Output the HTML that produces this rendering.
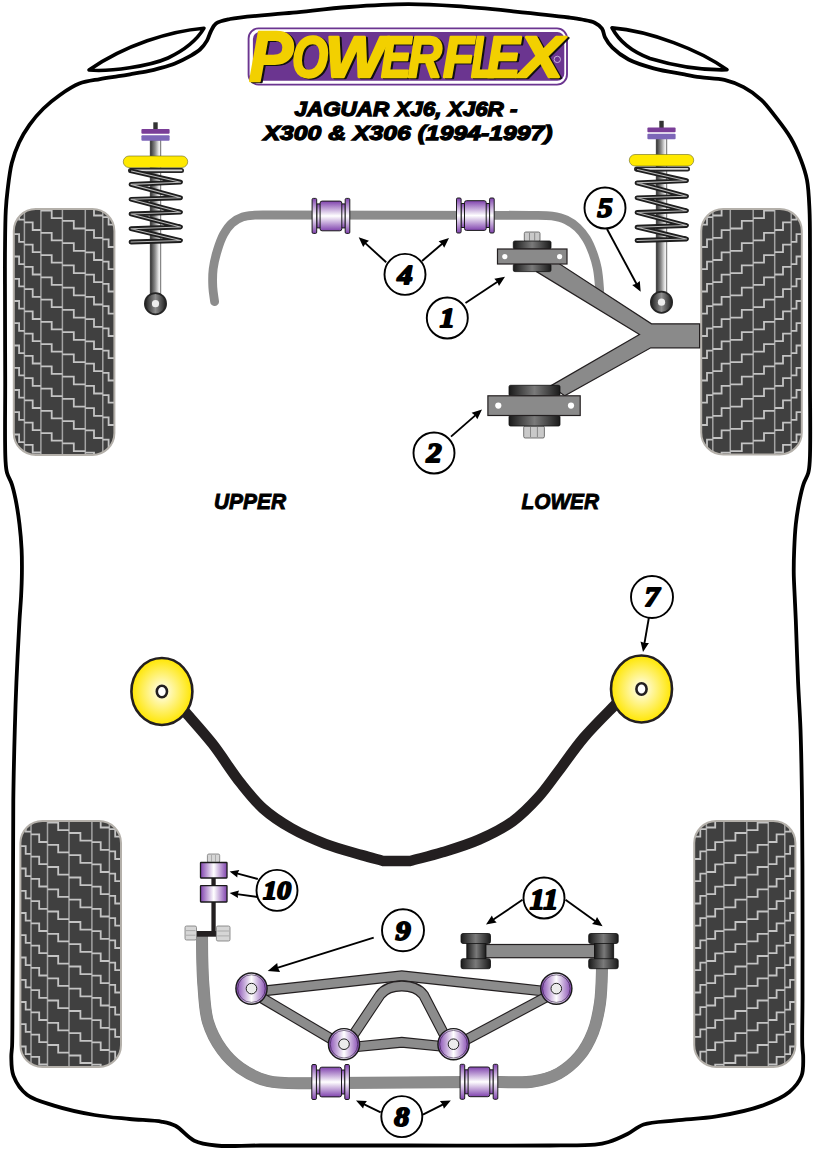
<!DOCTYPE html><html><head><meta charset="utf-8"><style>html,body{margin:0;padding:0;background:#fff;}svg{display:block;}</style></head><body><svg width="815" height="1152" viewBox="0 0 815 1152"><rect width="815" height="1152" fill="#fff"/>
<defs>
 <linearGradient id="shaft" x1="0" x2="1" y1="0" y2="0">
  <stop offset="0" stop-color="#2e2e2e"/><stop offset="0.45" stop-color="#8a8a8a"/><stop offset="0.82" stop-color="#ececec"/><stop offset="0.93" stop-color="#f2f2f2"/><stop offset="1" stop-color="#4a4a4a"/>
 </linearGradient>
 <linearGradient id="ballg" x1="0" x2="1" y1="0" y2="0">
  <stop offset="0" stop-color="#1e1e1e"/><stop offset="0.5" stop-color="#8e8e8e"/><stop offset="1" stop-color="#1e1e1e"/>
 </linearGradient>
 <linearGradient id="purp" x1="0" x2="0" y1="0" y2="1">
  <stop offset="0" stop-color="#8043ae"/><stop offset="0.5" stop-color="#ffffff"/><stop offset="1" stop-color="#8043ae"/>
 </linearGradient>
 <linearGradient id="purph" x1="0" x2="1" y1="0" y2="0">
  <stop offset="0" stop-color="#8043ae"/><stop offset="0.5" stop-color="#ffffff"/><stop offset="1" stop-color="#8043ae"/>
 </linearGradient>
 <linearGradient id="rub" x1="0" x2="1" y1="0" y2="0">
  <stop offset="0" stop-color="#1a1a1a"/><stop offset="0.5" stop-color="#7a7a7a"/><stop offset="1" stop-color="#1a1a1a"/>
 </linearGradient>
 <linearGradient id="rubv" x1="0" x2="0" y1="0" y2="1">
  <stop offset="0" stop-color="#1e1e1e"/><stop offset="0.5" stop-color="#8a8a8a"/><stop offset="1" stop-color="#1e1e1e"/>
 </linearGradient>
 <radialGradient id="yel" cx="0.5" cy="0.5" r="0.5">
  <stop offset="0" stop-color="#ffffff"/><stop offset="0.35" stop-color="#fff6a0"/><stop offset="1" stop-color="#ffe600"/>
 </radialGradient>
 <radialGradient id="ring" cx="0.5" cy="0.5" r="0.5">
  <stop offset="0" stop-color="#ffffff"/><stop offset="0.55" stop-color="#e8dcf2"/><stop offset="1" stop-color="#6f3d99"/>
 </radialGradient>
 <radialGradient id="ball" cx="0.5" cy="0.5" r="0.5">
  <stop offset="0" stop-color="#9a9a9a"/><stop offset="0.7" stop-color="#3a3a3a"/><stop offset="1" stop-color="#1a1a1a"/>
 </radialGradient>
</defs>

<path d="M408.00,4.20 C424.96,4.15 439.73,5.10 456.50,6.20 C474.63,7.39 494.22,9.41 513.00,11.30 C531.72,13.18 556.87,15.90 569.00,17.50 C574.86,18.27 577.71,18.63 582.00,19.50 C586.28,20.37 591.20,20.95 594.70,22.70 C597.66,24.18 600.28,26.14 602.00,28.60 C603.71,31.05 603.49,34.46 605.00,37.40 C606.77,40.83 609.12,44.40 612.40,47.70 C616.52,51.85 622.34,56.21 628.60,59.50 C635.80,63.28 644.84,65.89 653.60,68.30 C662.92,70.86 674.53,72.60 683.00,74.20 C689.43,75.41 693.80,76.31 700.00,77.20 C707.41,78.26 716.95,78.07 724.50,79.90 C731.38,81.56 737.55,83.96 743.60,87.20 C749.84,90.54 755.96,94.85 761.30,99.80 C766.79,104.88 771.21,111.21 776.00,117.40 C781.03,123.91 786.51,130.81 790.70,138.00 C794.82,145.06 798.23,152.83 801.00,160.10 C803.56,166.81 805.59,172.61 807.00,180.00 C808.69,188.90 808.99,199.27 809.50,210.00 C810.09,222.37 809.91,235.92 810.00,250.00 C810.10,265.74 810.00,281.38 810.00,300.00 C810.00,323.55 810.03,353.31 810.00,380.00 C809.97,406.74 810.72,445.17 809.80,460.30 C809.43,466.29 809.36,468.84 808.30,472.80 C807.27,476.66 804.96,479.75 803.60,483.80 C802.02,488.49 800.88,493.56 799.70,499.40 C798.22,506.73 796.72,516.05 795.80,524.40 C794.89,532.71 794.54,541.20 794.20,549.40 C793.87,557.33 793.67,565.00 793.75,572.80 C793.83,580.61 794.36,588.41 794.70,596.25 C795.04,604.14 795.39,610.20 795.80,620.00 C796.46,635.89 797.25,663.16 798.10,682.50 C798.84,699.26 799.88,712.17 800.50,729.40 C801.26,750.53 801.66,774.42 802.00,800.00 C802.40,830.44 802.42,866.67 802.50,900.00 C802.58,933.33 802.56,973.02 802.50,1000.00 C802.46,1018.34 801.90,1036.17 802.30,1046.20 C802.49,1051.06 803.21,1052.90 803.20,1057.00 C803.18,1062.42 803.73,1070.14 801.50,1075.90 C799.20,1081.84 794.85,1087.38 789.30,1092.00 C782.51,1097.65 772.74,1101.80 762.30,1105.60 C749.27,1110.34 731.38,1113.92 716.50,1116.40 C702.66,1118.70 688.74,1118.97 676.00,1120.40 C664.59,1121.69 652.31,1121.54 643.60,1124.50 C637.00,1126.75 633.11,1131.13 627.40,1134.00 C621.43,1137.00 614.36,1140.20 608.50,1142.00 C603.70,1143.48 600.85,1144.07 595.00,1144.70 C584.42,1145.84 569.20,1145.33 550.00,1145.50 C515.90,1145.80 455.82,1145.50 408.00,1145.50 C359.18,1145.50 294.82,1145.50 260.00,1145.50 C241.02,1145.50 228.04,1146.82 216.00,1145.50 C207.44,1144.56 200.96,1143.85 194.30,1140.70 C187.37,1137.42 181.45,1128.94 175.40,1125.80 C170.79,1123.41 167.50,1122.85 162.00,1121.80 C153.61,1120.20 140.61,1120.10 129.60,1119.00 C118.13,1117.85 106.56,1117.08 94.50,1115.00 C81.42,1112.74 66.01,1109.37 54.00,1105.60 C43.96,1102.45 33.91,1100.22 27.00,1094.80 C20.83,1089.95 16.06,1082.55 13.50,1075.90 C11.18,1069.88 11.42,1062.46 11.30,1057.00 C11.21,1052.84 11.90,1050.93 12.10,1046.00 C12.51,1035.93 12.37,1018.27 12.50,1000.00 C12.68,973.06 12.87,933.33 13.00,900.00 C13.13,866.67 12.93,830.44 13.30,800.00 C13.61,774.42 14.22,750.53 14.80,729.40 C15.28,712.17 15.70,699.25 16.40,682.50 C17.21,663.16 18.57,635.89 19.50,620.00 C20.07,610.20 20.70,604.14 21.10,596.25 C21.50,588.41 21.82,580.61 21.90,572.80 C21.98,565.00 21.98,557.32 21.60,549.40 C21.20,541.20 20.50,532.72 19.50,524.40 C18.50,516.05 17.08,506.73 15.60,499.40 C14.42,493.56 13.28,488.49 11.70,483.80 C10.34,479.75 8.03,476.66 7.00,472.80 C5.94,468.84 5.87,466.29 5.50,460.30 C4.57,445.17 5.28,406.74 5.20,380.00 C5.12,353.31 5.03,323.55 5.00,300.00 C4.98,281.38 4.84,265.74 5.00,250.00 C5.14,235.92 5.19,221.04 5.80,210.00 C6.23,202.18 6.72,197.15 7.60,190.00 C8.62,181.66 9.70,171.29 11.80,163.00 C13.68,155.60 16.09,148.95 19.10,142.50 C22.02,136.24 25.49,130.41 29.50,124.80 C33.60,119.06 38.44,113.46 43.50,108.50 C48.49,103.61 53.79,99.27 59.60,95.20 C65.68,90.94 72.43,86.29 79.30,83.60 C85.92,81.01 93.28,80.36 100.00,79.10 C106.32,77.92 113.06,77.08 118.50,76.20 C122.79,75.51 125.74,75.02 130.00,74.30 C135.33,73.40 142.62,72.33 148.00,71.20 C152.42,70.27 155.80,69.40 160.00,68.20 C164.74,66.85 170.07,65.38 175.00,63.40 C180.07,61.37 185.58,58.62 190.00,56.10 C193.75,53.96 197.14,52.13 200.00,49.50 C202.78,46.94 205.15,43.76 207.00,40.60 C208.78,37.57 209.43,33.93 211.00,31.00 C212.46,28.27 213.46,25.42 216.00,23.50 C219.24,21.05 223.56,20.34 230.00,19.00 C243.35,16.22 272.53,14.75 292.90,12.70 C312.14,10.76 330.05,8.41 349.00,7.00 C368.40,5.56 389.29,4.26 408.00,4.20 Z" fill="none" stroke="#000" stroke-width="3.8" stroke-linejoin="round"/>
<path d="M204,28.2 C170,31 125,45 89,70 C110,72 150,66 168,58 C185,50 197,40 204,28.2 Z" fill="#fff" stroke="#000" stroke-width="3.6" stroke-linejoin="round"/>
<path d="M612,27.9 C650,31 700,50 727,69.8 C700,70.5 670,64.5 650,58.5 C630,51 619,41 612,27.9 Z" fill="#fff" stroke="#000" stroke-width="3.6" stroke-linejoin="round"/>
<clipPath id="tc13_209"><rect x="13.8" y="209" width="100.6" height="246" rx="22" ry="22"/></clipPath>
<rect x="13.8" y="209" width="100.6" height="246" rx="22" ry="22" fill="#404040"/>
<g clip-path="url(#tc13_209)">
<path d="M24.4,207V457M40.9,207V457M62.4,207V457M85.3,207V457M102.8,207V457" stroke="#a4a4a4" stroke-width="1.5" fill="none"/>
<path d="M13.8,189.8H19.1V197.3H24.4M13.8,212.0H19.1V219.6H24.4M13.8,234.2H19.1V241.8H24.4M13.8,256.5H19.1V264.1H24.4M13.8,278.8H19.1V286.4H24.4M13.8,301.0H19.1V308.6H24.4M13.8,323.2H19.1V330.9H24.4M13.8,345.5H19.1V353.1H24.4M13.8,367.8H19.1V375.4H24.4M13.8,390.0H19.1V397.6H24.4M13.8,412.2H19.1V419.9H24.4M13.8,434.5H19.1V442.1H24.4M13.8,456.8H19.1V464.4H24.4M24.4,200.2H32.7V207.8H40.9M24.4,222.4H32.7V230.0H40.9M24.4,244.7H32.7V252.2H40.9M24.4,266.9H32.7V274.5H40.9M24.4,289.1H32.7V296.8H40.9M24.4,311.4H32.7V319.0H40.9M24.4,333.6H32.7V341.2H40.9M24.4,355.9H32.7V363.5H40.9M24.4,378.1H32.7V385.8H40.9M24.4,400.4H32.7V408.0H40.9M24.4,422.6H32.7V430.2H40.9M24.4,444.9H32.7V452.5H40.9M40.9,188.3H51.7V195.9H62.4M40.9,210.6H51.7V218.2H62.4M40.9,232.8H51.7V240.4H62.4M40.9,255.1H51.7V262.7H62.4M40.9,277.3H51.7V284.9H62.4M40.9,299.6H51.7V307.2H62.4M40.9,321.8H51.7V329.4H62.4M40.9,344.1H51.7V351.7H62.4M40.9,366.3H51.7V373.9H62.4M40.9,388.6H51.7V396.2H62.4M40.9,410.8H51.7V418.4H62.4M40.9,433.1H51.7V440.7H62.4M40.9,455.3H51.7V462.9H62.4M62.4,198.7H73.8V206.3H85.3M62.4,220.9H73.8V228.5H85.3M62.4,243.2H73.8V250.8H85.3M62.4,265.4H73.8V273.1H85.3M62.4,287.7H73.8V295.3H85.3M62.4,309.9H73.8V317.6H85.3M62.4,332.2H73.8V339.8H85.3M62.4,354.4H73.8V362.1H85.3M62.4,376.7H73.8V384.3H85.3M62.4,398.9H73.8V406.6H85.3M62.4,421.2H73.8V428.8H85.3M62.4,443.4H73.8V451.1H85.3M85.3,185.7H94.0V193.2H102.8M85.3,207.9H94.0V215.5H102.8M85.3,230.2H94.0V237.8H102.8M85.3,252.4H94.0V260.0H102.8M85.3,274.6H94.0V282.2H102.8M85.3,296.9H94.0V304.5H102.8M85.3,319.1H94.0V326.8H102.8M85.3,341.4H94.0V349.0H102.8M85.3,363.6H94.0V371.2H102.8M85.3,385.9H94.0V393.5H102.8M85.3,408.1H94.0V415.8H102.8M85.3,430.4H94.0V438.0H102.8M85.3,452.6H94.0V460.2H102.8M102.8,194.9H108.6V202.5H114.4M102.8,217.1H108.6V224.7H114.4M102.8,239.4H108.6V247.0H114.4M102.8,261.6H108.6V269.2H114.4M102.8,283.9H108.6V291.5H114.4M102.8,306.1H108.6V313.7H114.4M102.8,328.4H108.6V336.0H114.4M102.8,350.6H108.6V358.2H114.4M102.8,372.9H108.6V380.5H114.4M102.8,395.1H108.6V402.7H114.4M102.8,417.4H108.6V425.0H114.4M102.8,439.6H108.6V447.2H114.4M102.8,461.9H108.6V469.5H114.4" stroke="#c4c4c4" stroke-width="1.8" fill="none"/>
</g>
<rect x="13.8" y="209" width="100.6" height="246" rx="22" ry="22" fill="none" stroke="#b4b0aa" stroke-width="2"/>
<clipPath id="tc701_209"><rect x="701.2" y="209" width="100.6" height="245.5" rx="22" ry="22"/></clipPath>
<rect x="701.2" y="209" width="100.6" height="245.5" rx="22" ry="22" fill="#404040"/>
<g clip-path="url(#tc701_209)">
<path d="M791.2,207V456.5M774.7,207V456.5M753.2,207V456.5M730.3,207V456.5M712.8,207V456.5" stroke="#a4a4a4" stroke-width="1.5" fill="none"/>
<path d="M801.8,189.8H796.5V197.3H791.2M801.8,212.0H796.5V219.6H791.2M801.8,234.2H796.5V241.8H791.2M801.8,256.5H796.5V264.1H791.2M801.8,278.8H796.5V286.4H791.2M801.8,301.0H796.5V308.6H791.2M801.8,323.2H796.5V330.9H791.2M801.8,345.5H796.5V353.1H791.2M801.8,367.8H796.5V375.4H791.2M801.8,390.0H796.5V397.6H791.2M801.8,412.2H796.5V419.9H791.2M801.8,434.5H796.5V442.1H791.2M801.8,456.8H796.5V464.4H791.2M791.2,200.2H783.0V207.8H774.7M791.2,222.4H783.0V230.0H774.7M791.2,244.7H783.0V252.2H774.7M791.2,266.9H783.0V274.5H774.7M791.2,289.1H783.0V296.8H774.7M791.2,311.4H783.0V319.0H774.7M791.2,333.6H783.0V341.2H774.7M791.2,355.9H783.0V363.5H774.7M791.2,378.1H783.0V385.8H774.7M791.2,400.4H783.0V408.0H774.7M791.2,422.6H783.0V430.2H774.7M791.2,444.9H783.0V452.5H774.7M774.7,188.3H764.0V195.9H753.2M774.7,210.6H764.0V218.2H753.2M774.7,232.8H764.0V240.4H753.2M774.7,255.1H764.0V262.7H753.2M774.7,277.3H764.0V284.9H753.2M774.7,299.6H764.0V307.2H753.2M774.7,321.8H764.0V329.4H753.2M774.7,344.1H764.0V351.7H753.2M774.7,366.3H764.0V373.9H753.2M774.7,388.6H764.0V396.2H753.2M774.7,410.8H764.0V418.4H753.2M774.7,433.1H764.0V440.7H753.2M774.7,455.3H764.0V462.9H753.2M753.2,198.7H741.8V206.3H730.3M753.2,220.9H741.8V228.5H730.3M753.2,243.2H741.8V250.8H730.3M753.2,265.4H741.8V273.1H730.3M753.2,287.7H741.8V295.3H730.3M753.2,309.9H741.8V317.6H730.3M753.2,332.2H741.8V339.8H730.3M753.2,354.4H741.8V362.1H730.3M753.2,376.7H741.8V384.3H730.3M753.2,398.9H741.8V406.6H730.3M753.2,421.2H741.8V428.8H730.3M753.2,443.4H741.8V451.1H730.3M730.3,185.7H721.6V193.2H712.8M730.3,207.9H721.6V215.5H712.8M730.3,230.2H721.6V237.8H712.8M730.3,252.4H721.6V260.0H712.8M730.3,274.6H721.6V282.2H712.8M730.3,296.9H721.6V304.5H712.8M730.3,319.1H721.6V326.8H712.8M730.3,341.4H721.6V349.0H712.8M730.3,363.6H721.6V371.2H712.8M730.3,385.9H721.6V393.5H712.8M730.3,408.1H721.6V415.8H712.8M730.3,430.4H721.6V438.0H712.8M730.3,452.6H721.6V460.2H712.8M712.8,194.9H707.0V202.5H701.2M712.8,217.1H707.0V224.7H701.2M712.8,239.4H707.0V247.0H701.2M712.8,261.6H707.0V269.2H701.2M712.8,283.9H707.0V291.5H701.2M712.8,306.1H707.0V313.7H701.2M712.8,328.4H707.0V336.0H701.2M712.8,350.6H707.0V358.2H701.2M712.8,372.9H707.0V380.5H701.2M712.8,395.1H707.0V402.7H701.2M712.8,417.4H707.0V425.0H701.2M712.8,439.6H707.0V447.2H701.2M712.8,461.9H707.0V469.5H701.2" stroke="#c4c4c4" stroke-width="1.8" fill="none"/>
</g>
<rect x="701.2" y="209" width="100.6" height="245.5" rx="22" ry="22" fill="none" stroke="#b4b0aa" stroke-width="2"/>
<clipPath id="tc20_821"><rect x="20.4" y="821" width="100.6" height="246" rx="22" ry="22"/></clipPath>
<rect x="20.4" y="821" width="100.6" height="246" rx="22" ry="22" fill="#404040"/>
<g clip-path="url(#tc20_821)">
<path d="M31.0,819V1069M47.5,819V1069M69.0,819V1069M91.9,819V1069M109.4,819V1069" stroke="#a4a4a4" stroke-width="1.5" fill="none"/>
<path d="M20.4,801.8H25.7V809.4H31.0M20.4,824.0H25.7V831.6H31.0M20.4,846.2H25.7V853.9H31.0M20.4,868.5H25.7V876.1H31.0M20.4,890.8H25.7V898.4H31.0M20.4,913.0H25.7V920.6H31.0M20.4,935.2H25.7V942.9H31.0M20.4,957.5H25.7V965.1H31.0M20.4,979.8H25.7V987.4H31.0M20.4,1002.0H25.7V1009.6H31.0M20.4,1024.2H25.7V1031.8H31.0M20.4,1046.5H25.7V1054.1H31.0M20.4,1068.8H25.7V1076.3H31.0M31.0,812.1H39.2V819.8H47.5M31.0,834.4H39.2V842.0H47.5M31.0,856.6H39.2V864.2H47.5M31.0,878.9H39.2V886.5H47.5M31.0,901.1H39.2V908.8H47.5M31.0,923.4H39.2V931.0H47.5M31.0,945.6H39.2V953.2H47.5M31.0,967.9H39.2V975.5H47.5M31.0,990.1H39.2V997.8H47.5M31.0,1012.4H39.2V1020.0H47.5M31.0,1034.7H39.2V1042.2H47.5M31.0,1056.9H39.2V1064.5H47.5M47.5,800.3H58.2V807.9H69.0M47.5,822.5H58.2V830.1H69.0M47.5,844.8H58.2V852.4H69.0M47.5,867.0H58.2V874.6H69.0M47.5,889.3H58.2V896.9H69.0M47.5,911.5H58.2V919.1H69.0M47.5,933.8H58.2V941.4H69.0M47.5,956.0H58.2V963.6H69.0M47.5,978.3H58.2V985.9H69.0M47.5,1000.5H58.2V1008.1H69.0M47.5,1022.8H58.2V1030.4H69.0M47.5,1045.0H58.2V1052.6H69.0M47.5,1067.3H58.2V1074.9H69.0M69.0,810.7H80.4V818.3H91.9M69.0,833.0H80.4V840.6H91.9M69.0,855.2H80.4V862.8H91.9M69.0,877.5H80.4V885.1H91.9M69.0,899.7H80.4V907.3H91.9M69.0,922.0H80.4V929.6H91.9M69.0,944.2H80.4V951.8H91.9M69.0,966.5H80.4V974.1H91.9M69.0,988.7H80.4V996.3H91.9M69.0,1011.0H80.4V1018.6H91.9M69.0,1033.2H80.4V1040.8H91.9M69.0,1055.5H80.4V1063.0H91.9M91.9,797.6H100.7V805.2H109.4M91.9,819.9H100.7V827.5H109.4M91.9,842.1H100.7V849.8H109.4M91.9,864.4H100.7V872.0H109.4M91.9,886.6H100.7V894.2H109.4M91.9,908.9H100.7V916.5H109.4M91.9,931.1H100.7V938.8H109.4M91.9,953.4H100.7V961.0H109.4M91.9,975.6H100.7V983.2H109.4M91.9,997.9H100.7V1005.5H109.4M91.9,1020.1H100.7V1027.8H109.4M91.9,1042.4H100.7V1050.0H109.4M91.9,1064.7H100.7V1072.2H109.4M109.4,806.9H115.2V814.5H121.0M109.4,829.1H115.2V836.7H121.0M109.4,851.4H115.2V859.0H121.0M109.4,873.6H115.2V881.2H121.0M109.4,895.9H115.2V903.5H121.0M109.4,918.1H115.2V925.7H121.0M109.4,940.4H115.2V948.0H121.0M109.4,962.6H115.2V970.2H121.0M109.4,984.9H115.2V992.5H121.0M109.4,1007.1H115.2V1014.7H121.0M109.4,1029.3H115.2V1036.9H121.0M109.4,1051.6H115.2V1059.2H121.0M109.4,1073.8H115.2V1081.4H121.0" stroke="#c4c4c4" stroke-width="1.8" fill="none"/>
</g>
<rect x="20.4" y="821" width="100.6" height="246" rx="22" ry="22" fill="none" stroke="#b4b0aa" stroke-width="2"/>
<clipPath id="tc694_821"><rect x="694.2" y="821" width="101.2" height="246" rx="22" ry="22"/></clipPath>
<rect x="694.2" y="821" width="101.2" height="246" rx="22" ry="22" fill="#404040"/>
<g clip-path="url(#tc694_821)">
<path d="M784.8,819V1069M768.3,819V1069M746.8,819V1069M723.9,819V1069M706.4,819V1069" stroke="#a4a4a4" stroke-width="1.5" fill="none"/>
<path d="M795.4,801.8H790.1V809.4H784.8M795.4,824.0H790.1V831.6H784.8M795.4,846.2H790.1V853.9H784.8M795.4,868.5H790.1V876.1H784.8M795.4,890.8H790.1V898.4H784.8M795.4,913.0H790.1V920.6H784.8M795.4,935.2H790.1V942.9H784.8M795.4,957.5H790.1V965.1H784.8M795.4,979.8H790.1V987.4H784.8M795.4,1002.0H790.1V1009.6H784.8M795.4,1024.2H790.1V1031.8H784.8M795.4,1046.5H790.1V1054.1H784.8M795.4,1068.8H790.1V1076.3H784.8M784.8,812.1H776.6V819.8H768.3M784.8,834.4H776.6V842.0H768.3M784.8,856.6H776.6V864.2H768.3M784.8,878.9H776.6V886.5H768.3M784.8,901.1H776.6V908.8H768.3M784.8,923.4H776.6V931.0H768.3M784.8,945.6H776.6V953.2H768.3M784.8,967.9H776.6V975.5H768.3M784.8,990.1H776.6V997.8H768.3M784.8,1012.4H776.6V1020.0H768.3M784.8,1034.7H776.6V1042.2H768.3M784.8,1056.9H776.6V1064.5H768.3M768.3,800.3H757.6V807.9H746.8M768.3,822.5H757.6V830.1H746.8M768.3,844.8H757.6V852.4H746.8M768.3,867.0H757.6V874.6H746.8M768.3,889.3H757.6V896.9H746.8M768.3,911.5H757.6V919.1H746.8M768.3,933.8H757.6V941.4H746.8M768.3,956.0H757.6V963.6H746.8M768.3,978.3H757.6V985.9H746.8M768.3,1000.5H757.6V1008.1H746.8M768.3,1022.8H757.6V1030.4H746.8M768.3,1045.0H757.6V1052.6H746.8M768.3,1067.3H757.6V1074.9H746.8M746.8,810.7H735.4V818.3H723.9M746.8,833.0H735.4V840.6H723.9M746.8,855.2H735.4V862.8H723.9M746.8,877.5H735.4V885.1H723.9M746.8,899.7H735.4V907.3H723.9M746.8,922.0H735.4V929.6H723.9M746.8,944.2H735.4V951.8H723.9M746.8,966.5H735.4V974.1H723.9M746.8,988.7H735.4V996.3H723.9M746.8,1011.0H735.4V1018.6H723.9M746.8,1033.2H735.4V1040.8H723.9M746.8,1055.5H735.4V1063.0H723.9M723.9,797.6H715.2V805.2H706.4M723.9,819.9H715.2V827.5H706.4M723.9,842.1H715.2V849.8H706.4M723.9,864.4H715.2V872.0H706.4M723.9,886.6H715.2V894.2H706.4M723.9,908.9H715.2V916.5H706.4M723.9,931.1H715.2V938.8H706.4M723.9,953.4H715.2V961.0H706.4M723.9,975.6H715.2V983.2H706.4M723.9,997.9H715.2V1005.5H706.4M723.9,1020.1H715.2V1027.8H706.4M723.9,1042.4H715.2V1050.0H706.4M723.9,1064.7H715.2V1072.2H706.4M706.4,806.9H700.3V814.5H694.2M706.4,829.1H700.3V836.7H694.2M706.4,851.4H700.3V859.0H694.2M706.4,873.6H700.3V881.2H694.2M706.4,895.9H700.3V903.5H694.2M706.4,918.1H700.3V925.7H694.2M706.4,940.4H700.3V948.0H694.2M706.4,962.6H700.3V970.2H694.2M706.4,984.9H700.3V992.5H694.2M706.4,1007.1H700.3V1014.7H694.2M706.4,1029.3H700.3V1036.9H694.2M706.4,1051.6H700.3V1059.2H694.2M706.4,1073.8H700.3V1081.4H694.2" stroke="#c4c4c4" stroke-width="1.8" fill="none"/>
</g>
<rect x="694.2" y="821" width="101.2" height="246" rx="22" ry="22" fill="none" stroke="#b4b0aa" stroke-width="2"/>
<rect x="153.3" y="122.3" width="4.4" height="8" fill="#333"/>
<rect x="150.1" y="140.0" width="10.8" height="155" fill="url(#shaft)" stroke="#444" stroke-width="0.5"/>
<rect x="141.4" y="129.0" width="28.2" height="4.8" rx="1" fill="#7a3e98"/>
<rect x="141.4" y="135.2" width="28.2" height="5.6" rx="1" fill="#7d66b8"/>
<path d="M130.5,170.4H181.5" stroke="#262626" stroke-width="5" stroke-linecap="round" fill="none"/>
<path d="M130.5,170.4H181.5" stroke="#d8d8d8" stroke-width="1.6" stroke-linecap="round" fill="none"/>
<path d="M131.5,171.0 L180.5,182.2 L131.0,184.4 L180.5,197.8 L131.0,199.3 L180.5,212.2 L131.0,214.0 L180.5,227.0 L131.0,228.7 L180.5,240.5 L131.0,242.0" stroke="#1e1e1e" stroke-width="4.8" stroke-linecap="round" stroke-linejoin="round" fill="none"/>
<path d="M131.5,171.0 L180.5,182.2 L131.0,184.4 L180.5,197.8 L131.0,199.3 L180.5,212.2 L131.0,214.0 L180.5,227.0 L131.0,228.7 L180.5,240.5 L131.0,242.0" stroke="#b8b8b8" stroke-width="1.1" stroke-linecap="round" stroke-linejoin="round" fill="none"/>
<rect x="123.3" y="156.0" width="64.4" height="11.5" rx="5.7" fill="#ffe900" stroke="#6a6a20" stroke-width="0.6"/>
<circle cx="155.5" cy="303.7" r="10.6" fill="url(#ballg)" stroke="#252525" stroke-width="1.8"/>
<circle cx="155.5" cy="303.7" r="3.6" fill="#eee"/>
<rect x="659.3" y="120.8" width="4.4" height="8" fill="#333"/>
<rect x="656.1" y="138.5" width="10.8" height="155" fill="url(#shaft)" stroke="#444" stroke-width="0.5"/>
<rect x="647.4" y="127.5" width="28.2" height="4.8" rx="1" fill="#7a3e98"/>
<rect x="647.4" y="133.7" width="28.2" height="5.6" rx="1" fill="#7d66b8"/>
<path d="M636.5,168.9H687.5" stroke="#262626" stroke-width="5" stroke-linecap="round" fill="none"/>
<path d="M636.5,168.9H687.5" stroke="#d8d8d8" stroke-width="1.6" stroke-linecap="round" fill="none"/>
<path d="M637.5,169.5 L686.5,180.7 L637.0,182.9 L686.5,196.3 L637.0,197.8 L686.5,210.7 L637.0,212.5 L686.5,225.5 L637.0,227.2 L686.5,239.0 L637.0,240.5" stroke="#1e1e1e" stroke-width="4.8" stroke-linecap="round" stroke-linejoin="round" fill="none"/>
<path d="M637.5,169.5 L686.5,180.7 L637.0,182.9 L686.5,196.3 L637.0,197.8 L686.5,210.7 L637.0,212.5 L686.5,225.5 L637.0,227.2 L686.5,239.0 L637.0,240.5" stroke="#b8b8b8" stroke-width="1.1" stroke-linecap="round" stroke-linejoin="round" fill="none"/>
<rect x="629.3" y="154.5" width="64.4" height="11.5" rx="5.7" fill="#ffe900" stroke="#6a6a20" stroke-width="0.6"/>
<circle cx="661.5" cy="302.2" r="10.6" fill="url(#ballg)" stroke="#252525" stroke-width="1.8"/>
<circle cx="661.5" cy="302.2" r="3.6" fill="#eee"/>
<path d="M214.60,301.60 C214.00,296.73 213.06,292.14 212.80,287.00 C212.51,281.28 212.46,274.83 213.20,268.80 C213.95,262.70 215.51,256.44 217.30,250.60 C219.04,244.92 221.06,238.97 223.70,234.20 C226.03,229.99 228.63,226.11 231.90,223.20 C235.04,220.41 238.95,218.23 242.80,216.90 C246.56,215.60 250.47,215.53 254.70,215.20 C259.47,214.83 264.90,215.07 270.00,215.00 L530,215.3 L530.00,215.30 C537.33,215.53 545.49,215.03 552.00,216.00 C557.36,216.80 562.07,217.88 566.40,219.90 C570.52,221.82 574.21,224.53 577.50,227.60 C580.86,230.74 583.78,234.52 586.30,238.60 C588.97,242.93 591.07,248.05 592.90,253.00 C594.74,257.98 596.22,262.89 597.30,268.40 C598.51,274.56 599.12,283.21 599.50,288.30 C599.74,291.46 599.70,293.43 599.80,296.00" fill="none" stroke="#8c8c8c" stroke-width="8.8" stroke-linecap="round"/>
<rect x="316.8" y="203.9" width="28.5" height="24.0" fill="url(#purp)" stroke="#1a1a1a" stroke-width="1"/>
<rect x="312.1" y="198.4" width="4.6" height="35.0" rx="1.2" fill="url(#purp)" stroke="#1a1a1a" stroke-width="1"/>
<rect x="345.2" y="198.4" width="4.6" height="35.0" rx="1.2" fill="url(#purp)" stroke="#1a1a1a" stroke-width="1"/>
<rect x="320.1" y="201.1" width="21.7" height="29.7" rx="2" fill="url(#purp)" stroke="#1a1a1a" stroke-width="1"/>
<rect x="461.1" y="203.5" width="28.5" height="24.0" fill="url(#purp)" stroke="#1a1a1a" stroke-width="1"/>
<rect x="456.5" y="198.0" width="4.6" height="35.0" rx="1.2" fill="url(#purp)" stroke="#1a1a1a" stroke-width="1"/>
<rect x="489.6" y="198.0" width="4.6" height="35.0" rx="1.2" fill="url(#purp)" stroke="#1a1a1a" stroke-width="1"/>
<rect x="464.5" y="200.7" width="21.7" height="29.7" rx="2" fill="url(#purp)" stroke="#1a1a1a" stroke-width="1"/>
<path d="M536.5,271.6 L538,263.5 L559,263.5 L651.5,323.8 L699.6,323.8 L699.6,347.8 L650.8,347.8 L564.7,395.8 L550.6,385.9 L639.5,334.5 Z" fill="#8a8a8a" stroke="#231f20" stroke-width="1.2" stroke-linejoin="miter"/>
<rect x="524.3" y="232" width="15.700000000000045" height="9.5" rx="1.5" fill="#c9c9c9" stroke="#555" stroke-width="0.8"/>
<line x1="529.5" y1="233" x2="529.5" y2="240.5" stroke="#777" stroke-width="0.8"/>
<line x1="534.7" y1="233" x2="534.7" y2="240.5" stroke="#777" stroke-width="0.8"/>
<rect x="513.3" y="241" width="37.700000000000045" height="8" rx="1.5" fill="url(#rub)" stroke="#111" stroke-width="0.8"/>
<rect x="513.3" y="264" width="37.700000000000045" height="7.600000000000023" rx="1.5" fill="url(#rub)" stroke="#111" stroke-width="0.8"/>
<rect x="497.5" y="249" width="69.5" height="15" fill="#8a8a8a" stroke="#231f20" stroke-width="1.2"/>
<circle cx="504.8" cy="256.6" r="2.6" fill="#fff"/>
<circle cx="559.6" cy="256.6" r="2.6" fill="#fff"/>
<rect x="523.7" y="426" width="20.699999999999932" height="12" rx="1.5" fill="#c9c9c9" stroke="#555" stroke-width="0.8"/>
<line x1="530.5" y1="427" x2="530.5" y2="437" stroke="#777" stroke-width="0.8"/>
<line x1="537.4" y1="427" x2="537.4" y2="437" stroke="#777" stroke-width="0.8"/>
<rect x="509" y="385.3" width="51" height="10.5" rx="1.5" fill="url(#rub)" stroke="#111" stroke-width="0.8"/>
<rect x="509" y="415.5" width="51" height="10.5" rx="1.5" fill="url(#rub)" stroke="#111" stroke-width="0.8"/>
<rect x="487.9" y="395.8" width="92.30000000000007" height="19.69999999999999" fill="#8a8a8a" stroke="#231f20" stroke-width="1.2"/>
<circle cx="498.3" cy="405.6" r="3.1" fill="#fff"/>
<circle cx="571" cy="405.6" r="3.1" fill="#fff"/>
<text x="214" y="509.4" font-family="Liberation Sans" font-weight="bold" font-style="italic" font-size="21.2" textLength="72" lengthAdjust="spacingAndGlyphs" stroke="#000" stroke-width="0.9">UPPER</text>
<text x="521.5" y="509.4" font-family="Liberation Sans" font-weight="bold" font-style="italic" font-size="21.2" textLength="77.5" lengthAdjust="spacingAndGlyphs" stroke="#000" stroke-width="0.9">LOWER</text>
<line x1="386.2" y1="262.3" x2="365.0" y2="242.9" stroke="#000" stroke-width="1.9"/><polygon points="358.7,237.2 369.0,240.8 365.5,243.4 363.2,247.1" fill="#000"/>
<line x1="422" y1="261" x2="442.5" y2="243.5" stroke="#000" stroke-width="1.9"/><polygon points="449,238 444.2,247.8 442.0,244.0 438.6,241.2" fill="#000"/>
<line x1="465.5" y1="303" x2="497.9" y2="281.5" stroke="#000" stroke-width="1.9"/><polygon points="505,276.8 499.0,285.9 497.3,281.9 494.3,278.7" fill="#000"/>
<line x1="607" y1="229" x2="636.7" y2="284.3" stroke="#000" stroke-width="1.9"/><polygon points="640.7,291.8 632.2,285.0 636.3,283.7 639.8,281.0" fill="#000"/>
<line x1="451" y1="436.6" x2="475.6" y2="415.1" stroke="#000" stroke-width="1.9"/><polygon points="482,409.5 477.3,419.3 475.1,415.6 471.6,412.8" fill="#000"/>
<circle cx="405" cy="274.4" r="20.5" fill="#fff" stroke="#000" stroke-width="1.9"/><text x="405" y="274.4" text-anchor="middle" dominant-baseline="central" transform="translate(405,0) scale(1.12,1) translate(-405,0)" font-family="Liberation Serif" font-weight="bold" font-style="italic" font-size="27" stroke="#000" stroke-width="1.9" stroke-linejoin="round">4</text>
<circle cx="447.3" cy="318" r="20.5" fill="#fff" stroke="#000" stroke-width="1.9"/><text x="447.3" y="318" text-anchor="middle" dominant-baseline="central" transform="translate(447.3,0) scale(1.12,1) translate(-447.3,0)" font-family="Liberation Serif" font-weight="bold" font-style="italic" font-size="27" stroke="#000" stroke-width="1.9" stroke-linejoin="round">1</text>
<circle cx="605" cy="208" r="20.5" fill="#fff" stroke="#000" stroke-width="1.9"/><text x="605" y="208" text-anchor="middle" dominant-baseline="central" transform="translate(605,0) scale(1.12,1) translate(-605,0)" font-family="Liberation Serif" font-weight="bold" font-style="italic" font-size="27" stroke="#000" stroke-width="1.9" stroke-linejoin="round">5</text>
<circle cx="434" cy="453" r="20.5" fill="#fff" stroke="#000" stroke-width="1.9"/><text x="434" y="453" text-anchor="middle" dominant-baseline="central" transform="translate(434,0) scale(1.12,1) translate(-434,0)" font-family="Liberation Serif" font-weight="bold" font-style="italic" font-size="27" stroke="#000" stroke-width="1.9" stroke-linejoin="round">2</text>
<path d="M180.00,706.00 C182.33,708.67 183.96,710.48 187.00,714.00 C192.83,720.74 203.86,732.83 212.30,743.60 C221.73,755.63 231.43,771.58 240.60,783.10 C248.25,792.72 254.59,801.00 263.00,808.50 C271.50,816.09 281.24,822.49 291.40,828.30 C301.93,834.32 313.54,839.36 325.20,843.80 C337.06,848.32 351.43,851.99 362.00,855.10 C369.96,857.44 376.00,859.03 383.00,861.00 L410,861 L410.00,861.00 C420.77,858.10 431.25,855.70 442.30,852.30 C454.21,848.64 467.21,844.80 479.00,839.60 C490.75,834.42 502.83,828.48 512.90,821.20 C522.48,814.27 530.66,805.70 538.30,797.30 C545.63,789.23 551.05,781.00 558.00,771.90 C565.99,761.44 574.24,748.92 583.50,738.00 C593.03,726.76 607.66,712.50 614.50,705.50 C617.82,702.10 619.50,700.50 622.00,698.00" fill="none" stroke="#231f20" stroke-width="10.5"/>
<ellipse cx="161.9" cy="691.5" rx="30.5" ry="33.5" fill="url(#yel)" stroke="#231f20" stroke-width="2.6"/>
<ellipse cx="161.9" cy="691.5" rx="5.1" ry="5.7" fill="#fff" stroke="#231f20" stroke-width="2.6"/>
<ellipse cx="641.5" cy="689" rx="30.5" ry="33.5" fill="url(#yel)" stroke="#231f20" stroke-width="2.6"/>
<ellipse cx="641.5" cy="689" rx="5.1" ry="5.7" fill="#fff" stroke="#231f20" stroke-width="2.6"/>
<line x1="649" y1="617" x2="644.4" y2="643.6" stroke="#000" stroke-width="1.9"/><polygon points="643,652 640.5,641.4 644.6,642.9 648.9,642.9" fill="#000"/>
<circle cx="652" cy="597" r="21" fill="#fff" stroke="#000" stroke-width="1.9"/><text x="652" y="597" text-anchor="middle" dominant-baseline="central" transform="translate(652,0) scale(1.12,1) translate(-652,0)" font-family="Liberation Serif" font-weight="bold" font-style="italic" font-size="27" stroke="#000" stroke-width="1.9" stroke-linejoin="round">7</text>
<path d="M202.00,934.00 C202.10,942.67 202.06,951.42 202.30,960.00 C202.53,968.42 202.63,975.87 203.40,985.00 C204.34,996.15 204.62,1010.83 208.00,1022.00 C211.07,1032.16 216.12,1041.71 221.80,1049.60 C227.02,1056.84 232.93,1062.89 240.20,1068.00 C248.07,1073.53 257.22,1078.36 267.80,1081.00 C280.54,1084.18 300.33,1082.97 312.00,1083.20 C319.65,1083.35 324.67,1083.07 331.00,1083.00 L480,1082 L480.00,1082.00 C486.20,1082.00 491.45,1082.05 498.60,1082.00 C508.32,1081.93 522.48,1083.20 533.00,1081.50 C542.31,1080.00 550.98,1077.62 558.70,1073.40 C566.41,1069.18 573.61,1063.00 579.30,1056.20 C585.08,1049.30 589.57,1040.85 593.00,1032.20 C596.57,1023.18 598.49,1013.20 600.00,1003.00 C601.61,992.07 601.80,975.59 602.00,968.60 C602.09,965.54 602.00,964.20 602.00,962.00" fill="none" stroke="#858585" stroke-width="12"/>
<path d="M202.00,934.00 C202.10,942.67 202.06,951.42 202.30,960.00 C202.53,968.42 202.63,975.87 203.40,985.00 C204.34,996.15 204.62,1010.83 208.00,1022.00 C211.07,1032.16 216.12,1041.71 221.80,1049.60 C227.02,1056.84 232.93,1062.89 240.20,1068.00 C248.07,1073.53 257.22,1078.36 267.80,1081.00 C280.54,1084.18 300.33,1082.97 312.00,1083.20 C319.65,1083.35 324.67,1083.07 331.00,1083.00 L480,1082 L480.00,1082.00 C486.20,1082.00 491.45,1082.05 498.60,1082.00 C508.32,1081.93 522.48,1083.20 533.00,1081.50 C542.31,1080.00 550.98,1077.62 558.70,1073.40 C566.41,1069.18 573.61,1063.00 579.30,1056.20 C585.08,1049.30 589.57,1040.85 593.00,1032.20 C596.57,1023.18 598.49,1013.20 600.00,1003.00 C601.61,992.07 601.80,975.59 602.00,968.60 C602.09,965.54 602.00,964.20 602.00,962.00" fill="none" stroke="#8c8c8c" stroke-width="11"/>
<rect x="316.4" y="1070.0" width="28.5" height="24.0" fill="url(#purp)" stroke="#1a1a1a" stroke-width="1"/>
<rect x="311.8" y="1064.5" width="4.6" height="35.0" rx="1.2" fill="url(#purp)" stroke="#1a1a1a" stroke-width="1"/>
<rect x="344.8" y="1064.5" width="4.6" height="35.0" rx="1.2" fill="url(#purp)" stroke="#1a1a1a" stroke-width="1"/>
<rect x="319.8" y="1067.2" width="21.7" height="29.7" rx="2" fill="url(#purp)" stroke="#1a1a1a" stroke-width="1"/>
<rect x="464.8" y="1069.8" width="28.5" height="24.0" fill="url(#purp)" stroke="#1a1a1a" stroke-width="1"/>
<rect x="460.1" y="1064.3" width="4.6" height="35.0" rx="1.2" fill="url(#purp)" stroke="#1a1a1a" stroke-width="1"/>
<rect x="493.2" y="1064.3" width="4.6" height="35.0" rx="1.2" fill="url(#purp)" stroke="#1a1a1a" stroke-width="1"/>
<rect x="468.1" y="1067.0" width="21.7" height="29.7" rx="2" fill="url(#purp)" stroke="#1a1a1a" stroke-width="1"/>
<rect x="211.4" y="878" width="4.3" height="58" fill="#231f20"/>
<rect x="196.5" y="931" width="20" height="5.7" fill="#231f20"/>
<rect x="207.4" y="854" width="12.3" height="8.5" rx="1.5" fill="#d6d6d6" stroke="#777" stroke-width="0.8"/><line x1="211.5" y1="855" x2="211.5" y2="861.5" stroke="#999" stroke-width="0.7"/><line x1="215.5" y1="855" x2="215.5" y2="861.5" stroke="#999" stroke-width="0.7"/>
<rect x="185" y="926" width="11.5" height="14" rx="1.5" fill="#d6d6d6" stroke="#777" stroke-width="0.8"/><line x1="186" y1="930.6" x2="195.5" y2="930.6" stroke="#999" stroke-width="0.7"/><line x1="186" y1="935.2" x2="195.5" y2="935.2" stroke="#999" stroke-width="0.7"/>
<rect x="216.4" y="926" width="13.6" height="15" rx="1.5" fill="#d6d6d6" stroke="#777" stroke-width="0.8"/><line x1="217.4" y1="931.0" x2="229.0" y2="931.0" stroke="#999" stroke-width="0.7"/><line x1="217.4" y1="935.9" x2="229.0" y2="935.9" stroke="#999" stroke-width="0.7"/>
<rect x="200.5" y="862.5" width="26.5" height="15.5" rx="0.5" fill="url(#purph)" stroke="#1a1a1a" stroke-width="1.3"/>
<rect x="200.5" y="885.7" width="26.5" height="16.299999999999955" rx="0.5" fill="url(#purph)" stroke="#1a1a1a" stroke-width="1.3"/>
<line x1="257.8" y1="879" x2="236.8" y2="873.4" stroke="#000" stroke-width="1.9"/><polygon points="229.6,871.5 239.3,870.1 237.5,873.6 237.3,877.5" fill="#000"/>
<line x1="257.8" y1="897" x2="237.0" y2="894.1" stroke="#000" stroke-width="1.9"/><polygon points="229.6,893 239.0,890.5 237.7,894.2 238.0,898.0" fill="#000"/>
<circle cx="277" cy="890.4" r="20.5" fill="#fff" stroke="#000" stroke-width="1.9"/><text x="277" y="890.4" text-anchor="middle" dominant-baseline="central" transform="translate(277,0) scale(1.13,1) translate(-277,0)" font-family="Liberation Serif" font-weight="bold" font-style="italic" font-size="25" stroke="#000" stroke-width="1.9" stroke-linejoin="round">10</text>
<path d="M251.5,992.3 L401.8,975.8 L556.4,992.5" fill="none" stroke="#231f20" stroke-width="10.8" stroke-linejoin="miter"/>
<path d="M251.5,992.3 L401.8,975.8 L556.4,992.5" fill="none" stroke="#8c8c8c" stroke-width="8.6" stroke-linejoin="miter"/>
<path d="M350,1040 L380,995 C389,983 414.6,983 423.6,995 L447,1040" fill="none" stroke="#231f20" stroke-width="10.8" stroke-linejoin="miter"/>
<path d="M350,1040 L380,995 C389,983 414.6,983 423.6,995 L447,1040" fill="none" stroke="#8c8c8c" stroke-width="8.6" stroke-linejoin="miter"/>
<path d="M250,991 L344,1046.5" fill="none" stroke="#231f20" stroke-width="10.8" stroke-linejoin="miter"/>
<path d="M250,991 L344,1046.5" fill="none" stroke="#8c8c8c" stroke-width="8.6" stroke-linejoin="miter"/>
<path d="M557.5,991 L453.5,1046.5" fill="none" stroke="#231f20" stroke-width="10.8" stroke-linejoin="miter"/>
<path d="M557.5,991 L453.5,1046.5" fill="none" stroke="#8c8c8c" stroke-width="8.6" stroke-linejoin="miter"/>
<path d="M344,1048 L401.8,1042.3 L453.5,1047.5" fill="none" stroke="#231f20" stroke-width="10.8" stroke-linejoin="miter"/>
<path d="M344,1048 L401.8,1042.3 L453.5,1047.5" fill="none" stroke="#8c8c8c" stroke-width="8.6" stroke-linejoin="miter"/>
<circle cx="251.5" cy="988.6" r="15.6" fill="url(#purph)" stroke="#1a1a1a" stroke-width="1.4"/>
<circle cx="251.5" cy="988.6" r="13.8" fill="none" stroke="#2a1a3a" stroke-width="0.7" opacity="0.8"/>
<circle cx="251.5" cy="988.6" r="5.3" fill="#ececec" stroke="#222" stroke-width="1"/>
<circle cx="344" cy="1044.2" r="15.6" fill="url(#purph)" stroke="#1a1a1a" stroke-width="1.4"/>
<circle cx="344" cy="1044.2" r="13.8" fill="none" stroke="#2a1a3a" stroke-width="0.7" opacity="0.8"/>
<circle cx="344" cy="1044.2" r="5.3" fill="#ececec" stroke="#222" stroke-width="1"/>
<circle cx="453.5" cy="1044.2" r="15.6" fill="url(#purph)" stroke="#1a1a1a" stroke-width="1.4"/>
<circle cx="453.5" cy="1044.2" r="13.8" fill="none" stroke="#2a1a3a" stroke-width="0.7" opacity="0.8"/>
<circle cx="453.5" cy="1044.2" r="5.3" fill="#ececec" stroke="#222" stroke-width="1"/>
<circle cx="556.3" cy="988.6" r="15.6" fill="url(#purph)" stroke="#1a1a1a" stroke-width="1.4"/>
<circle cx="556.3" cy="988.6" r="13.8" fill="none" stroke="#2a1a3a" stroke-width="0.7" opacity="0.8"/>
<circle cx="556.3" cy="988.6" r="5.3" fill="#ececec" stroke="#222" stroke-width="1"/>
<line x1="373.7" y1="937.7" x2="277.2" y2="967.9" stroke="#000" stroke-width="1.9"/><polygon points="267.7,970.9 277.2,962.9 277.9,967.7 280.1,972.0" fill="#000"/>
<circle cx="403" cy="930.3" r="21" fill="#fff" stroke="#000" stroke-width="1.9"/><text x="403" y="930.3" text-anchor="middle" dominant-baseline="central" transform="translate(403,0) scale(1.12,1) translate(-403,0)" font-family="Liberation Serif" font-weight="bold" font-style="italic" font-size="27" stroke="#000" stroke-width="1.9" stroke-linejoin="round">9</text>
<rect x="480" y="944.5" width="115" height="13.2" fill="#8a8a8a" stroke="#231f20" stroke-width="1.2"/>
<rect x="466.8" y="942" width="19.2" height="18" fill="url(#rub)" stroke="#111" stroke-width="0.8"/>
<rect x="461" y="933.5" width="29.5" height="10" rx="2" fill="url(#rub)" stroke="#111" stroke-width="0.8"/>
<rect x="461" y="958.7" width="29.5" height="10" rx="2" fill="url(#rub)" stroke="#111" stroke-width="0.8"/>
<rect x="594.5" y="942" width="19.2" height="18" fill="url(#rub)" stroke="#111" stroke-width="0.8"/>
<rect x="588.7" y="933.5" width="29.5" height="10" rx="2" fill="url(#rub)" stroke="#111" stroke-width="0.8"/>
<rect x="588.7" y="958.7" width="29.5" height="10" rx="2" fill="url(#rub)" stroke="#111" stroke-width="0.8"/>
<line x1="522.5" y1="899.8" x2="493.0" y2="919.8" stroke="#000" stroke-width="1.9"/><polygon points="486,924.6 491.9,915.4 493.6,919.4 496.7,922.5" fill="#000"/>
<line x1="565.5" y1="899.8" x2="595.7" y2="921.4" stroke="#000" stroke-width="1.9"/><polygon points="602.6,926.3 592.0,924.0 595.1,921.0 597.0,917.0" fill="#000"/>
<circle cx="544" cy="898" r="20.5" fill="#fff" stroke="#000" stroke-width="1.9"/><text x="544" y="899.3" text-anchor="middle" dominant-baseline="central" transform="translate(544,0) scale(1.05,1) translate(-544,0)" font-family="Liberation Serif" font-weight="bold" font-style="italic" font-size="28.5" stroke="#000" stroke-width="1.9" stroke-linejoin="round">11</text>
<line x1="380.7" y1="1112.3" x2="363.7" y2="1104.1" stroke="#000" stroke-width="1.9"/><polygon points="356,1100.4 366.9,1100.9 364.3,1104.4 363.1,1108.6" fill="#000"/>
<line x1="422.9" y1="1114.7" x2="443.2" y2="1104.3" stroke="#000" stroke-width="1.9"/><polygon points="450.8,1100.4 443.9,1108.8 442.6,1104.6 439.9,1101.1" fill="#000"/>
<circle cx="401.8" cy="1116.6" r="20.5" fill="#fff" stroke="#000" stroke-width="1.9"/><text x="401.8" y="1116.6" text-anchor="middle" dominant-baseline="central" transform="translate(401.8,0) scale(1.12,1) translate(-401.8,0)" font-family="Liberation Serif" font-weight="bold" font-style="italic" font-size="27" stroke="#000" stroke-width="1.9" stroke-linejoin="round">8</text>
<rect x="248.6" y="28.4" width="318.4" height="56.2" rx="10" fill="#fff" stroke="#6b3590" stroke-width="1.9"/>
<rect x="252.9" y="31.9" width="311.4" height="48.8" rx="7" fill="#6b3590"/>
<g font-family="Liberation Sans" font-weight="bold" font-style="italic" fill="#111" stroke="#111" stroke-width="2.4" stroke-linejoin="round" transform="translate(2,1.6)"><text x="249" y="80.8" font-size="70" textLength="44" lengthAdjust="spacingAndGlyphs">P</text><text x="292" y="76.5" font-size="58" textLength="36" lengthAdjust="spacingAndGlyphs">O</text><text x="325" y="76.5" font-size="58" textLength="60" lengthAdjust="spacingAndGlyphs">W</text><text x="381" y="76.5" font-size="58" textLength="30" lengthAdjust="spacingAndGlyphs">E</text><text x="408" y="76.5" font-size="58" textLength="34" lengthAdjust="spacingAndGlyphs">R</text><text x="443" y="76.5" font-size="58" textLength="31" lengthAdjust="spacingAndGlyphs">F</text><text x="471" y="76.5" font-size="58" textLength="26" lengthAdjust="spacingAndGlyphs">L</text><text x="487" y="76.5" font-size="58" textLength="33" lengthAdjust="spacingAndGlyphs">E</text><text x="519" y="76.5" font-size="58" textLength="44" lengthAdjust="spacingAndGlyphs">X</text></g>
<g font-family="Liberation Sans" font-weight="bold" font-style="italic" fill="#f2d000" stroke="#f2d000" stroke-width="2.4" stroke-linejoin="round"><text x="249" y="80.8" font-size="70" textLength="44" lengthAdjust="spacingAndGlyphs">P</text><text x="292" y="76.5" font-size="58" textLength="36" lengthAdjust="spacingAndGlyphs">O</text><text x="325" y="76.5" font-size="58" textLength="60" lengthAdjust="spacingAndGlyphs">W</text><text x="381" y="76.5" font-size="58" textLength="30" lengthAdjust="spacingAndGlyphs">E</text><text x="408" y="76.5" font-size="58" textLength="34" lengthAdjust="spacingAndGlyphs">R</text><text x="443" y="76.5" font-size="58" textLength="31" lengthAdjust="spacingAndGlyphs">F</text><text x="471" y="76.5" font-size="58" textLength="26" lengthAdjust="spacingAndGlyphs">L</text><text x="487" y="76.5" font-size="58" textLength="33" lengthAdjust="spacingAndGlyphs">E</text><text x="519" y="76.5" font-size="58" textLength="44" lengthAdjust="spacingAndGlyphs">X</text></g>
<circle cx="557.3" cy="59.4" r="3.2" fill="none" stroke="#d9c9e6" stroke-width="0.8"/>
<text x="294.5" y="115.6" font-family="Liberation Sans" font-weight="bold" font-style="italic" font-size="20.8" textLength="223" lengthAdjust="spacingAndGlyphs" stroke="#000" stroke-width="1.3">JAGUAR XJ6, XJ6R -</text>
<text x="263.5" y="139.5" font-family="Liberation Sans" font-weight="bold" font-style="italic" font-size="20.8" textLength="289" lengthAdjust="spacingAndGlyphs" stroke="#000" stroke-width="1.3">X300 &amp; X306 (1994-1997)</text></svg></body></html>
